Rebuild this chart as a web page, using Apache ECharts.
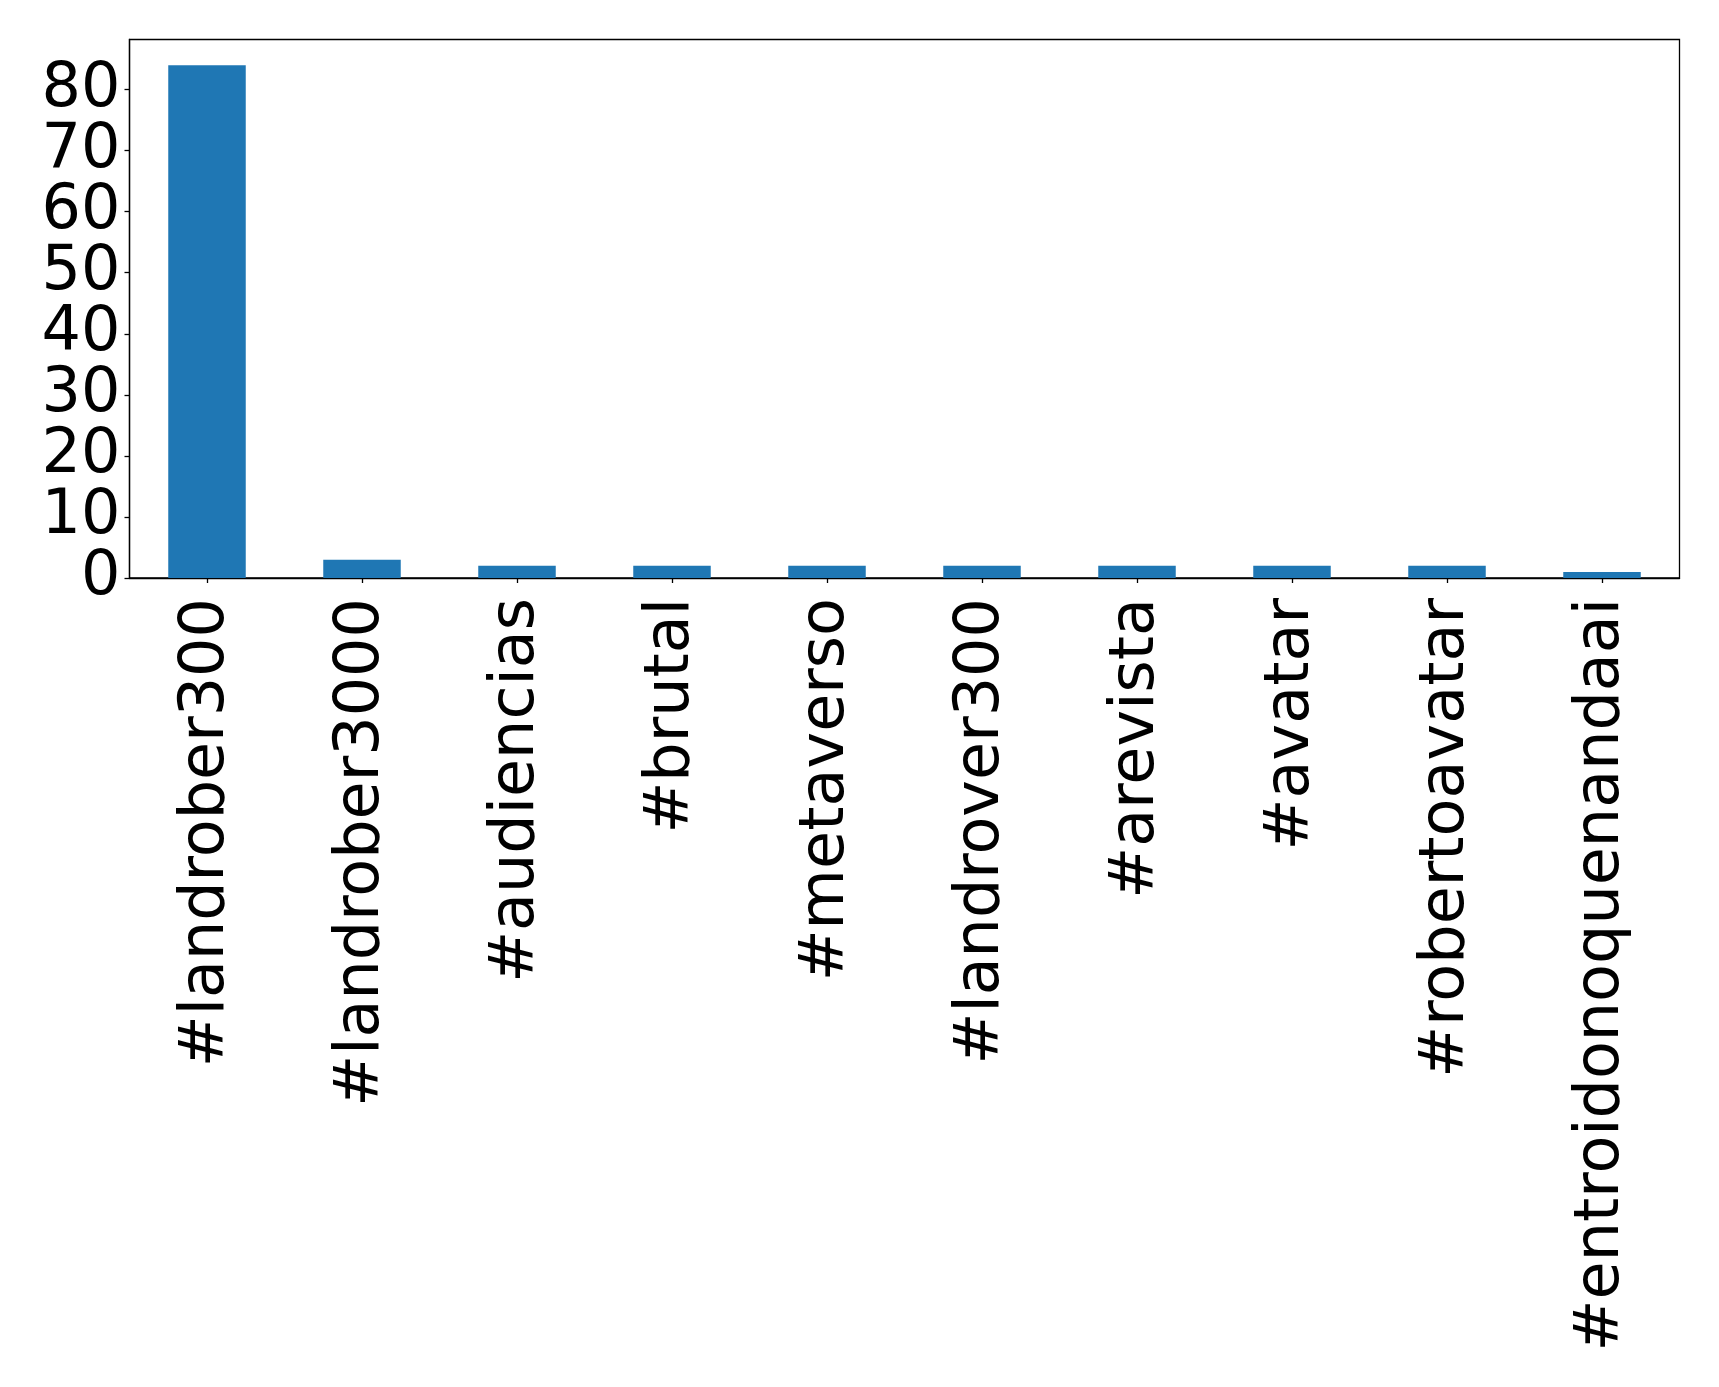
<!DOCTYPE html>
<html>
<head>
<meta charset="utf-8">
<script src="https://cdn.jsdelivr.net/npm/echarts@6/dist/echarts.min.js"></script>
<style>
html,body{margin:0;padding:0;background:#fff;}
#chart{width:1719px;height:1387px;}
</style>
</head>
<body>
<div id="chart"></div>
<script>
const categories = ["#landrober300", "#landrober3000", "#audiencias", "#brutal", "#metaverso", "#landrover300", "#arevista", "#avatar", "#robertoavatar", "#entroidonoquenandaai"];
const counts = [84, 3, 2, 2, 2, 2, 2, 2, 2, 1];
const yTicksEven = [0, 20, 40, 60, 80];
const yTicksOdd = [10, 30, 50, 70];
const yMax = 88.2;

const chart = echarts.init(document.getElementById('chart'));
const font = '"DejaVu Sans", sans-serif';
function yAxisDef(vals, showLine) {
  return {
    type: 'value',
    position: 'left',
    offset: 0,
    min: 0,
    max: yMax,
    interval: 10,
    axisLine: { show: showLine, lineStyle: { color: '#000', width: 1.3 } },
    axisTick: { show: true, length: 5, lineStyle: { color: '#000', width: 1.3 }, customValues: vals },
    axisLabel: { margin: 9, fontSize: 62, fontFamily: font, color: '#000', customValues: vals, showMinLabel: true, showMaxLabel: true },
    splitLine: { show: false }
  };
}
chart.setOption({
  animation: false,
  backgroundColor: '#ffffff',
  grid: {
    left: 129.5, top: 39.5, right: 39.5, bottom: 809,
    show: true, borderColor: '#000', borderWidth: 1.3, backgroundColor: 'transparent'
  },
  xAxis: {
    type: 'category',
    data: categories,
    axisLine: { show: true, lineStyle: { color: '#000', width: 1.3 } },
    axisTick: { show: true, alignWithLabel: true, length: 5, lineStyle: { color: '#000', width: 1.3 } },
    axisLabel: { rotate: 90, margin: 20, fontSize: 62, fontFamily: font, color: '#000', interval: 0 },
    splitLine: { show: false }
  },
  yAxis: [yAxisDef(yTicksEven, true), yAxisDef(yTicksOdd, false)],
  series: [{
    type: 'bar',
    yAxisIndex: 0,
    data: counts,
    barWidth: '50%',
    itemStyle: { color: '#1f77b4' }
  }]
});
</script>
</body>
</html>
